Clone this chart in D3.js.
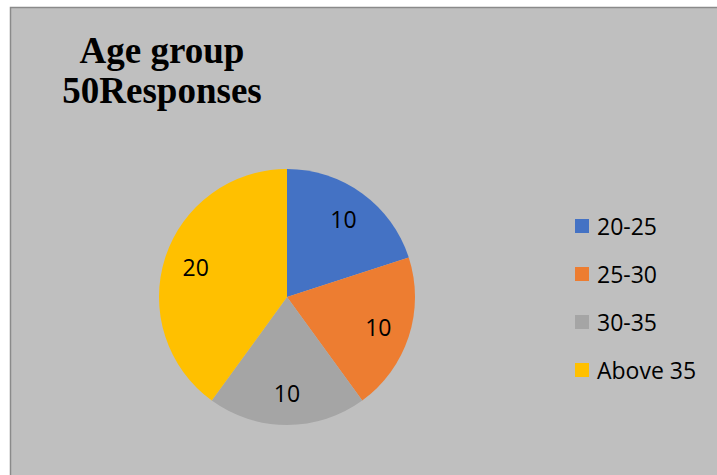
<!DOCTYPE html>
<html>
<head>
<meta charset="utf-8">
<script src="https://cdn.jsdelivr.net/npm/d3@7"></script>
<style>
  html, body { margin: 0; padding: 0; background: #ffffff; }
  svg { display: block; }
</style>
</head>
<body>
<svg id="chart" width="717" height="475"></svg>
<script>
// Age group breakdown of the 50 responses
const categories = ["20-25", "25-30", "30-35", "Above 35"];
const values = [10, 10, 10, 20];
const colors = ["#4472c4", "#ed7d31", "#a5a5a5", "#ffc000"];
const titleLines = ["Age group", "50Responses"];

const svg = d3.select("#chart");
const W = 717, H = 475;

// chart area panel
svg.append("rect")
  .attr("x", 10.5).attr("y", 7.5)
  .attr("width", W + 20).attr("height", H + 20)
  .attr("fill", "#bfbfbf")
  .attr("stroke", "#8a8a8a")
  .attr("stroke-width", 1.5);

// title
const title = svg.append("text")
  .attr("text-anchor", "middle")
  .attr("font-family", "'Liberation Serif', 'Times New Roman', serif")
  .attr("font-weight", "bold")
  .attr("font-size", 37)
  .attr("fill", "#000");
titleLines.forEach((t, i) => {
  title.append("tspan").attr("x", 162).attr("y", 63 + i * 40).text(t);
});

// pie
const cx = 287, cy = 297, radius = 128;
const pie = d3.pie().sort(null).value(d => d.value);
const arcs = pie(categories.map((c, i) => ({ name: c, value: values[i], color: colors[i] })));
const arc = d3.arc().innerRadius(0).outerRadius(radius);
const labelArc = d3.arc().innerRadius(96).outerRadius(96);

const g = svg.append("g").attr("transform", `translate(${cx},${cy})`);
g.selectAll("path.slice")
  .data(arcs)
  .join("path")
  .attr("class", "slice")
  .attr("d", arc)
  .attr("fill", d => d.data.color);

g.selectAll("text.val")
  .data(arcs)
  .join("text")
  .attr("class", "val")
  .attr("transform", d => `translate(${labelArc.centroid(d)})`)
  .attr("text-anchor", "middle")
  .attr("dominant-baseline", "central")
  .attr("font-family", "'Open Sans', 'Noto Sans', sans-serif")
  .attr("font-size", 23)
  .attr("fill", "#000")
  .text(d => d.data.value);

// legend
const legendY = d3.scaleBand()
  .domain(categories)
  .range([202, 394]);

const legend = svg.append("g");
const items = legend.selectAll("g.item")
  .data(categories)
  .join("g")
  .attr("class", "item")
  .attr("transform", d => `translate(575, ${legendY(d) + legendY.bandwidth() / 2})`);

items.append("rect")
  .attr("x", 0).attr("y", -7)
  .attr("width", 14).attr("height", 14)
  .attr("fill", (d, i) => colors[i]);

items.append("text")
  .attr("x", 22)
  .attr("y", 0)
  .attr("dominant-baseline", "central")
  .attr("font-family", "'Open Sans', 'Noto Sans', sans-serif")
  .attr("font-size", 23)
  .attr("fill", "#000")
  .text(d => d);
</script>
</body>
</html>
